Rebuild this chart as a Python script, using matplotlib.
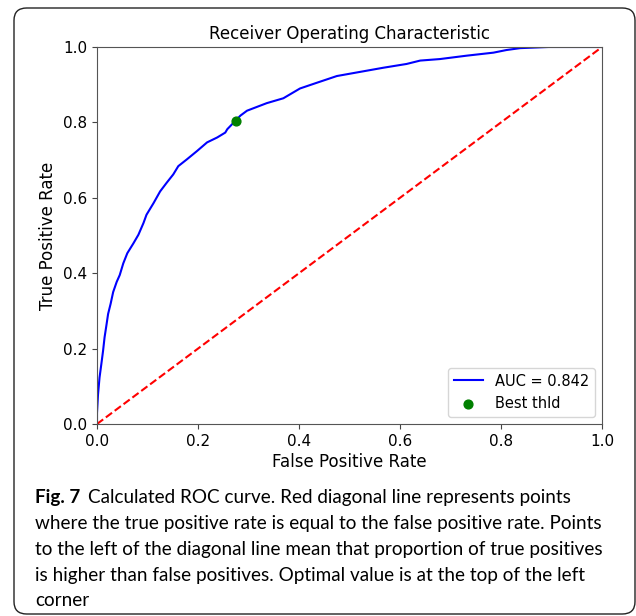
import matplotlib
matplotlib.use("Agg")
import matplotlib.pyplot as plt
from matplotlib.patches import FancyBboxPatch

W, H = 636, 616

# ROC curve values
fpr = [0.0, 0.0, 0.002, 0.005, 0.0086, 0.012, 0.015, 0.019, 0.022, 0.027,
       0.032, 0.039, 0.045, 0.052, 0.060, 0.072, 0.082, 0.092, 0.098, 0.112,
       0.125, 0.138, 0.151, 0.161, 0.178, 0.198, 0.218, 0.238, 0.254, 0.258,
       0.271, 0.284, 0.297, 0.336, 0.369, 0.402, 0.435, 0.475, 0.521, 0.567,
       0.613, 0.640, 0.679, 0.732, 0.785, 0.811, 0.838, 0.894, 1.0]
tpr = [0.0, 0.029, 0.078, 0.123, 0.159, 0.194, 0.23, 0.265, 0.292, 0.319,
       0.35, 0.377, 0.395, 0.426, 0.453, 0.479, 0.502, 0.533, 0.555, 0.586,
       0.617, 0.64, 0.662, 0.684, 0.702, 0.724, 0.747, 0.76, 0.773, 0.782,
       0.80, 0.818, 0.831, 0.851, 0.864, 0.890, 0.905, 0.923, 0.934, 0.945,
       0.955, 0.964, 0.968, 0.977, 0.985, 0.992, 0.997, 1.0, 1.0]
auc_label = "AUC = 0.842"
best_fpr = [0.275]
best_tpr = [0.805]
diag = [0.0, 1.0]

title = "Receiver Operating Characteristic"
xlabel = "False Positive Rate"
ylabel = "True Positive Rate"
ticks = [0.0, 0.2, 0.4, 0.6, 0.8, 1.0]

caption_bold = "Fig. 7"
caption_lines = [
    "Calculated ROC curve. Red diagonal line represents points",
    "where the true positive rate is equal to the false positive rate. Points",
    "to the left of the diagonal line mean that proportion of true positives",
    "is higher than false positives. Optimal value is at the top of the left",
    "corner",
]

def fx(px):
    return px / W

def fy(py):
    return 1 - py / H

fig = plt.figure(figsize=(W / 100, H / 100), dpi=100)
fig.patch.set_facecolor("white")

# card border
card = FancyBboxPatch((fx(14), fy(614)), fx(635) - fx(14), fy(8) - fy(614),
                      boxstyle="round,pad=0,rounding_size=0.02",
                      transform=fig.transFigure, fill=False,
                      edgecolor="#222222", linewidth=1.0)
fig.patches.append(card)

ax = fig.add_axes([fx(97), fy(424), fx(602) - fx(97), fy(47) - fy(424)])
ax.plot(fpr, tpr, color="blue", linewidth=1.5, label=auc_label)
ax.plot(diag, diag, "r--", linewidth=1.5)
ax.scatter(best_fpr, best_tpr, color="green", s=40, zorder=3, label="Best thld")
ax.set_xlim(0, 1)
ax.set_ylim(0, 1)
ax.set_xticks(ticks)
ax.set_yticks(ticks)
ax.tick_params(labelsize=11, color="#444444")
for s in ax.spines.values():
    s.set_color("#555555")
ax.set_title(title, fontsize=12, pad=6)
ax.set_xlabel(xlabel, fontsize=12, labelpad=3)
ax.set_ylabel(ylabel, fontsize=12)
ax.legend(loc="lower right", fontsize=10.5)

# caption
cap_font = "Lato"
cap_size = 13.6
x0 = 35
ys = [497, 523, 549, 575, 601]
tb = fig.text(fx(x0), fy(ys[0]), caption_bold, fontsize=cap_size, fontweight="bold",
              family=cap_font, va="center", ha="left")
fig.canvas.draw()
bb = tb.get_window_extent()
fig.text(fx(bb.x1 + 8), fy(ys[0]), caption_lines[0], fontsize=cap_size,
         family=cap_font, va="center", ha="left")
for line, y in zip(caption_lines[1:], ys[1:]):
    fig.text(fx(x0), fy(y), line, fontsize=cap_size, family=cap_font,
             va="center", ha="left")

fig.savefig("out.png", dpi=100)
